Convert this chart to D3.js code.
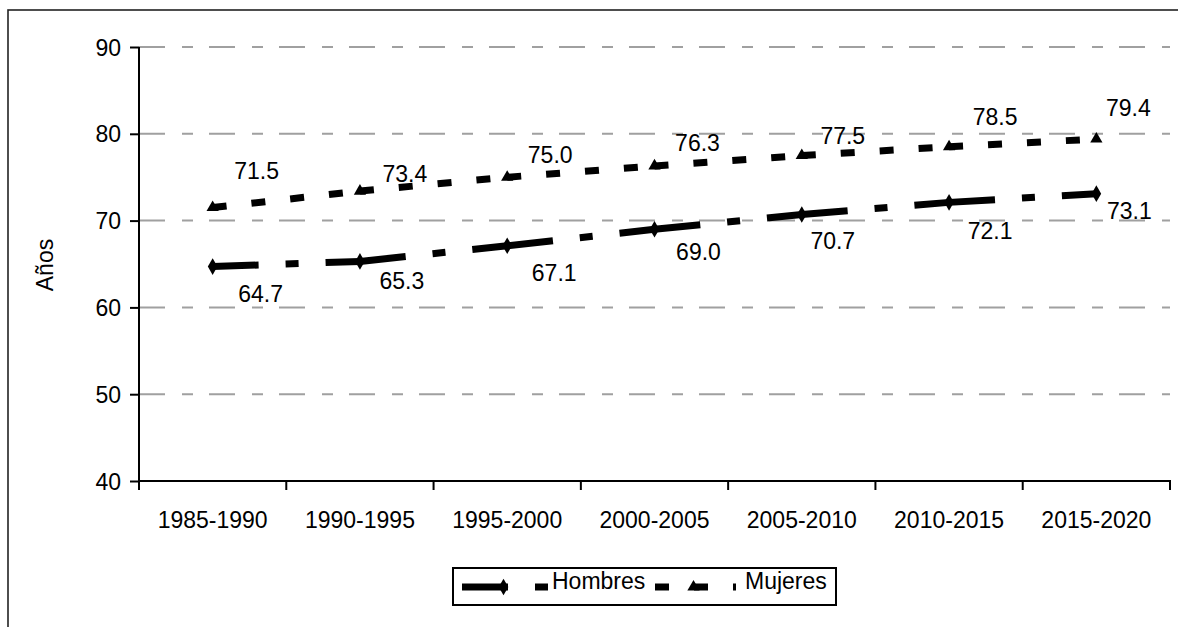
<!DOCTYPE html>
<html>
<head>
<meta charset="utf-8">
<script src="https://cdn.jsdelivr.net/npm/d3@7"></script>
<style>
  html, body { margin: 0; padding: 0; background: #fff; }
  svg text { font-family: "Liberation Sans", Arial, sans-serif; fill: #000; }
</style>
</head>
<body>
<div id="figure"></div>
<script>
'use strict';

const periods = ['1985-1990', '1990-1995', '1995-2000', '2000-2005', '2005-2010', '2010-2015', '2015-2020'];
const hombres = [64.7, 65.3, 67.1, 69.0, 70.7, 72.1, 73.1];
const mujeres = [71.5, 73.4, 75.0, 76.3, 77.5, 78.5, 79.4];
const yTicks = [40, 50, 60, 70, 80, 90];
const seriesNames = ['Hombres', 'Mujeres'];

// label nudges (px) from each point, like the hand-moved labels of the original
const hombresLabelShift = [[48, 27], [42, 20], [47, 27], [44, 23], [31, 26], [41, 29], [33, 17]];
const mujeresLabelShift = [[44, -37], [45, -17], [43, -22], [43, -23], [41, -20], [46, -30], [32, -31]];

function drawFigure() {
  const width = 1178;
  const height = 627;

  const x = d3.scaleBand()
    .domain(periods)
    .range([139, 1170]);

  const y = d3.scaleLinear()
    .domain([40, 90])
    .range([481, 47]);

  const svg = d3.select('div#figure')
    .append('svg')
    .attr('width', width)
    .attr('height', height)
    .attr('viewBox', [0, 0, width, height]);

  // outer frame (cut off on right and bottom)
  svg.append('rect')
    .attr('x', 8)
    .attr('y', 10)
    .attr('width', 1300)
    .attr('height', 800)
    .attr('fill', 'none')
    .attr('stroke', '#222')
    .attr('stroke-width', 1.6);

  // gridlines
  svg.append('g')
    .selectAll('line')
    .data(yTicks.filter(t => t > 40))
    .join('line')
    .attr('x1', 139)
    .attr('x2', 1170)
    .attr('y1', d => y(d))
    .attr('y2', d => y(d))
    .attr('stroke', '#a0a0a0')
    .attr('stroke-width', 2)
    .attr('stroke-dasharray', '26 17 11 16');

  // axes
  const yAxis = svg.append('g')
    .attr('transform', 'translate(139, 0)')
    .call(d3.axisLeft(y).tickValues(yTicks).tickSize(9).tickPadding(9));

  const xAxis = svg.append('g')
    .attr('transform', 'translate(0, 481)')
    .call(d3.axisBottom(x).tickSize(0).tickPadding(31));

  xAxis.selectAll('.tick')
    .append('line')
    .attr('x1', x.bandwidth() / 2)
    .attr('x2', x.bandwidth() / 2)
    .attr('y2', 9);
  xAxis.append('line')
    .attr('x1', x.range()[0])
    .attr('x2', x.range()[0])
    .attr('y2', 9);

  [yAxis, xAxis].forEach(a => {
    a.select('.domain').attr('stroke', '#000').attr('stroke-width', 2);
    a.selectAll('line').attr('stroke', '#000').attr('stroke-width', 2);
    a.selectAll('text')
      .attr('font-family', '"Liberation Sans", Arial, sans-serif')
      .attr('font-size', 23)
      .attr('fill', '#000');
  });
  xAxis.select('.domain').attr('d', `M${x.range()[0]},0H${x.range()[1]}V9`);
  yAxis.select('.domain').attr('d', `M0,${y(40)}V${y(90)}`);
  yAxis.selectAll('text').attr('dy', '0.35em');

  svg.append('text')
    .attr('transform', `translate(53, 265) rotate(-90)`)
    .attr('text-anchor', 'middle')
    .attr('font-size', 23)
    .text('Años');

  const cx = d => x(d) + x.bandwidth() / 2;

  const styles = {
    Hombres: { dash: '46 27 13 27', symbol: d3.symbolDiamond, size: 80 },
    Mujeres: { dash: '14 25', symbol: d3.symbolTriangle, size: 65 },
  };

  const seriesData = [hombres, mujeres];
  const shifts = [hombresLabelShift, mujeresLabelShift];

  seriesNames.forEach((name, si) => {
    const pts = periods.map((p, i) => [cx(p), y(seriesData[si][i])]);
    const st = styles[name];
    const g = svg.append('g');

    // each segment restarts its dash pattern
    g.selectAll('path.seg')
      .data(d3.pairs(pts))
      .join('path')
      .attr('class', 'seg')
      .attr('d', d => d3.line()(d))
      .attr('fill', 'none')
      .attr('stroke', '#000')
      .attr('stroke-width', 7)
      .attr('stroke-dasharray', st.dash);

    g.selectAll('path.mark')
      .data(pts)
      .join('path')
      .attr('class', 'mark')
      .attr('transform', d => `translate(${d[0]}, ${d[1]})`)
      .attr('d', d3.symbol(st.symbol, st.size))
      .attr('fill', '#000');

    g.selectAll('text')
      .data(seriesData[si])
      .join('text')
      .attr('x', (d, i) => pts[i][0] + shifts[si][i][0])
      .attr('y', (d, i) => pts[i][1] + shifts[si][i][1])
      .attr('dy', '0.35em')
      .attr('text-anchor', 'middle')
      .attr('font-size', 23)
      .text(d => d3.format('.1f')(d));
  });

  // legend
  const legend = svg.append('g');
  legend.append('rect')
    .attr('x', 453)
    .attr('y', 568)
    .attr('width', 383)
    .attr('height', 37)
    .attr('fill', '#fff')
    .attr('stroke', '#000')
    .attr('stroke-width', 2);

  const legendItems = [
    { name: 'Hombres', x0: 462, x1: 549, tx: 552 },
    { name: 'Mujeres', x0: 655, x1: 736, tx: 745 },
  ];
  legendItems.forEach(item => {
    const st = styles[item.name];
    legend.append('line')
      .attr('x1', item.x0)
      .attr('x2', item.x1)
      .attr('y1', 587)
      .attr('y2', 587)
      .attr('stroke', '#000')
      .attr('stroke-width', 7)
      .attr('stroke-dasharray', st.dash);
    legend.append('path')
      .attr('transform', `translate(${(item.x0 + item.x1) / 2 - 2}, 587)`)
      .attr('d', d3.symbol(st.symbol, st.size))
      .attr('fill', '#000');
    legend.append('text')
      .attr('x', item.tx)
      .attr('y', 589)
      .attr('font-size', 23)
      .text(item.name);
  });
}

drawFigure();
</script>
</body>
</html>
